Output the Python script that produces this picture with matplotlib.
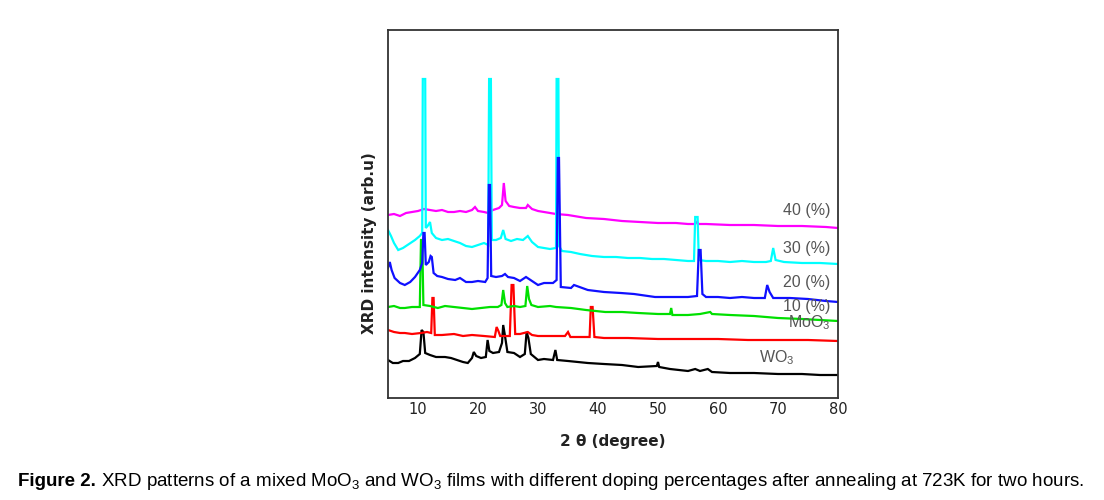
"""XRD patterns of mixed MoO3 / WO3 films."""

import numpy as np
import matplotlib
matplotlib.use("Agg")
import matplotlib.pyplot as plt

plt.rcParams["mathtext.fontset"] = "custom"
plt.rcParams["mathtext.rm"] = "Liberation Sans"
plt.rcParams["mathtext.it"] = "Liberation Sans:italic"
plt.rcParams["mathtext.bf"] = "Liberation Sans:bold"

# (2theta, intensity) points, arbitrary units
wo3 = [(5, 38), (5.8, 35), (6.7, 35), (7.5, 37), (8.5, 37), (9.5, 40), (10.3, 44), (10.6, 68),
       (10.9, 66), (11.2, 45), (12, 43), (13, 41), (14.5, 41), (15.5, 40), (16.5, 38), (17.5, 36),
       (18.3, 35), (19, 40), (19.3, 46), (19.7, 42), (20.5, 40), (21.3, 41), (21.6, 58), (21.9, 47),
       (22.5, 45), (23.5, 46), (24.0, 55), (24.2, 73), (24.5, 62), (24.9, 46), (26, 45), (27, 41),
       (27.8, 44), (28.1, 66), (28.4, 60), (28.8, 44), (30, 38), (31, 39), (32.5, 38), (32.9, 48),
       (33.2, 38), (35, 37), (38.3, 35), (41, 34), (44, 33), (46.7, 31), (49.8, 32), (50, 36),
       (50.2, 31), (52, 29), (55, 27), (56.2, 29), (57, 27), (58.3, 29), (59, 26), (62, 25),
       (66, 25), (70, 24), (74, 24), (77, 23), (80, 23)]
moo3 = [(5, 68), (6, 66), (7, 65), (7.8, 65), (9, 64), (10.5, 65), (11.5, 66), (12.2, 65),
        (12.4, 100), (12.6, 100), (12.8, 63), (14, 63), (16, 64), (17.5, 62), (19, 63), (21, 62),
        (22.8, 61), (23.1, 71), (23.4, 67), (23.7, 62), (25.3, 62), (25.6, 113), (25.9, 113),
        (26.2, 64), (27, 64), (28.3, 66), (29, 63), (30, 62), (32, 62), (34.5, 62), (35, 66),
        (35.4, 61), (37, 61), (38.6, 61), (38.8, 91), (39.1, 91), (39.4, 61), (41, 60), (45, 60),
        (50, 59), (55, 59), (60, 59), (65, 58), (70, 58), (75, 58), (80, 57)]
dop10 = [(5, 91), (6, 92), (7, 90), (7.8, 90), (9, 91), (10.3, 91), (10.5, 158), (10.7, 158),
         (10.9, 93), (12, 92), (13.3, 90), (14.5, 92), (16, 91), (17.5, 90), (19, 89), (20.5, 90),
         (22, 91), (23.3, 91), (23.9, 93), (24.2, 108), (24.5, 95), (24.9, 91), (26, 92), (27, 91),
         (27.9, 92), (28.2, 112), (28.5, 99), (28.9, 93), (30, 91), (32, 92), (33, 91), (35.5, 90),
         (38, 88), (41.2, 86), (44, 86), (46.7, 85), (50, 84), (52.0, 84), (52.2, 90), (52.4, 83),
         (55, 83), (57, 84), (58.7, 86), (59, 84), (62, 83), (66, 82), (70, 80), (74, 79),
         (77, 78), (80, 77)]
dop20 = [(5, 130), (5.3, 136), (5.6, 128), (6.1, 120), (7, 115), (7.8, 113), (8.7, 116),
         (9.5, 121), (10.3, 128), (10.7, 135), (10.9, 165), (11.1, 165), (11.3, 133), (11.8, 136),
         (12.1, 142), (12.3, 141), (12.6, 125), (13.2, 122), (14, 121), (15, 119), (16.2, 118),
         (17, 120), (18, 116), (19, 116), (20, 117), (21.2, 116), (21.6, 120), (21.8, 213),
         (22.0, 213), (22.2, 122), (23, 121), (24, 122), (24.5, 124), (25, 121), (26, 120),
         (27, 117), (28, 121), (29, 117), (30, 113), (31, 115), (32.5, 115), (33.1, 118),
         (33.3, 240), (33.5, 240), (33.8, 111), (35.5, 110), (36, 113), (38.3, 108), (41, 106),
         (43.8, 105), (46, 104), (49.5, 101), (52, 101), (55, 101), (56.5, 102), (56.8, 148),
         (57.1, 148), (57.4, 104), (58, 101), (60, 101), (62, 100), (64, 101), (66, 100),
         (67.8, 100), (68.2, 113), (68.6, 106), (69.2, 100), (72, 100), (75, 99), (78, 97),
         (80, 96)]
dop30 = [(5, 168), (5.5, 162), (6, 155), (6.7, 148), (7.5, 150), (8.5, 154), (9.5, 158),
         (10.3, 162), (10.7, 165), (10.8, 319), (11.2, 319), (11.3, 170), (11.6, 172), (12.0, 176),
         (12.3, 165), (13.0, 160), (14, 158), (15, 159), (16, 157), (17, 155), (18, 152), (19, 151),
         (20, 153), (21, 155), (21.7, 153), (21.85, 319), (22.15, 319), (22.3, 158), (23, 158),
         (23.8, 160), (24.2, 168), (24.6, 159), (25.5, 157), (26.5, 159), (27.5, 158), (28.3, 162),
         (29, 156), (30, 151), (31, 150), (32, 149), (33.0, 150), (33.1, 319), (33.4, 319),
         (33.5, 152), (34, 147), (35.5, 146), (37, 144), (39, 142), (41, 141), (43, 141), (45, 140),
         (47, 140), (49, 139), (51, 139), (53, 138), (55, 137), (56.0, 137), (56.2, 181),
         (56.6, 181), (56.8, 138), (58, 137), (60, 137), (62, 136), (64, 137), (66, 136),
         (68, 136), (68.8, 137), (69.2, 150), (69.6, 138), (71, 136), (74, 135), (77, 135),
         (80, 134)]
dop40 = [(5, 183), (6, 184), (7, 182), (8, 185), (9, 186), (10, 187), (10.5, 188), (11, 189),
         (12, 188), (13, 187), (14, 188), (15, 186), (16, 186), (17, 187), (18, 186), (19, 188),
         (19.5, 191), (20, 187), (21, 186), (21.7, 185), (22.5, 188), (23.5, 190), (24.0, 193),
         (24.3, 215), (24.6, 197), (25.2, 192), (26, 191), (27, 190), (28, 190), (28.3, 193),
         (29, 189), (30, 187), (31, 186), (33, 184), (35, 183), (38, 180), (41, 179), (44, 177),
         (47, 176), (50, 175), (53, 175), (55, 174), (56.2, 174), (56.5, 176), (56.8, 174),
         (58, 174), (62, 173), (66, 173), (70, 172), (74, 172), (78, 171), (80, 170)]

series = [("WO3", wo3, "#000000"), ("MoO3", moo3, "#ff0000"), ("10", dop10, "#00e000"),
          ("40", dop40, "#ff00ff"), ("30", dop30, "#00ffff"), ("20", dop20, "#1010ff")]

labels = [("40 (%)", 74.8, 188), ("30 (%)", 74.8, 150), ("20 (%)", 74.8, 115),
          ("10 (%)", 74.8, 92), ("MoO$_3$", 75.2, 75), ("WO$_3$", 69.8, 40)]

fig = plt.figure(figsize=(11.04, 5.0), dpi=100)
ax = fig.add_axes([388 / 1104, 1 - 398 / 500, 450 / 1104, 368 / 500])

for name, pts, col in series:
    arr = np.array(pts)
    ax.plot(arr[:, 0], arr[:, 1], color=col, lw=1.6, solid_joinstyle="miter")

for txt, x, y in labels:
    ax.text(x, y, txt, color="#555555", fontsize=11.5, ha="center", va="center",
            family="Liberation Sans")

ax.set_xlim(5, 80)
ax.set_ylim(0, 368)
ax.set_xticks([10, 20, 30, 40, 50, 60, 70, 80])
ax.set_yticks([])
ax.tick_params(axis="x", length=0, pad=3, labelsize=10.5, colors="#222222")
for sp in ax.spines.values():
    sp.set_color("#333333")
    sp.set_linewidth(1.3)

ax.set_xlabel("2 \u03b8 (degree)", fontsize=11, fontweight="bold", labelpad=12, color="#222222")
ax.set_ylabel("XRD intensity (arb.u)", fontsize=11, fontweight="bold", color="#222222")
ax.yaxis.set_label_coords(-0.025, 0.42)

cap_font = ["Liberation Sans", "DejaVu Sans"]
t1 = fig.text(18 / 1104, 1 - 482 / 500, "Figure 2.", fontsize=13.5, fontweight="bold",
              family=cap_font, va="center")
ax.annotate(" XRD patterns of a mixed MoO$_3$ and WO$_3$ films with different doping "
            "percentages after annealing at 723K for two hours.",
            xy=(1, 0.5), xycoords=t1, va="center", fontsize=13.5, family=cap_font,
            annotation_clip=False)

fig.savefig("out.png", dpi=100)
